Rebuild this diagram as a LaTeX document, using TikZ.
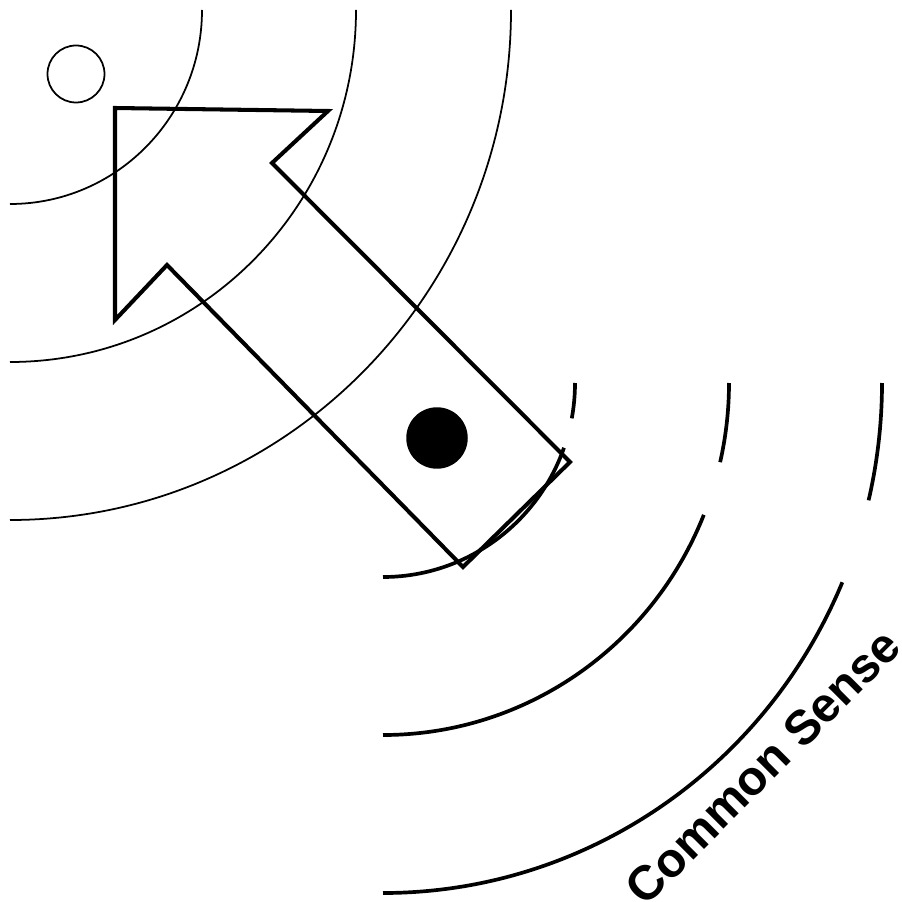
\documentclass[tikz,border=0pt]{standalone}
\usepackage{fontspec}
\setmainfont{Liberation Sans}
\definecolor{InkBlack}{HTML}{000000}
\usetikzlibrary{positioning,shapes.geometric}

\begin{document}
\begin{tikzpicture}[x=0.02cm, y=-0.02cm,
    thinring/.style={draw=InkBlack, line width=1pt},
    thickring/.style={draw=InkBlack, line width=2.1pt},
    outline/.style={draw=InkBlack, line width=2.3pt, line join=miter}]
  \useasboundingbox (0,0) rectangle (902,902);

  % rings round the upper corner
  \foreach \rx/\ry in {192/194, 346/352, 501/510}{
    \draw[thinring] (10+\rx,10) arc[start angle=0, end angle=90, x radius=\rx, y radius=\ry];
  }

  % broken rings round the middle
  \foreach \rx/\ry/\a/\b in {192/194/10.5/19.5, 346/352/13/22, 499/510/13.3/23}{
    \draw[thickring] (383+\rx,383) arc[start angle=0, end angle=\a, x radius=\rx, y radius=\ry];
    \draw[thickring] ({383+\rx*cos(\b)},{383+\ry*sin(\b)}) arc[start angle=\b, end angle=90, x radius=\rx, y radius=\ry];
  }

  % the big arrow
  \draw[outline] (115,108) -- (328,111) -- (272,163) -- (570,462)
    -- (463,567) -- (167,265) -- (115,320) -- cycle;

  \node[circle, draw=InkBlack, line width=1pt, inner sep=0pt, minimum size=1.14cm] (ring) at (76,74) {};
  \node[circle, fill=InkBlack, inner sep=0pt, minimum size=1.23cm] (dot) at (437,438) {};
  \node[rotate=45, font=\bfseries\fontsize{27.5}{30}\selectfont, inner sep=0pt] (sense) at (763,767) {Common Sense};
\end{tikzpicture}
\end{document}
